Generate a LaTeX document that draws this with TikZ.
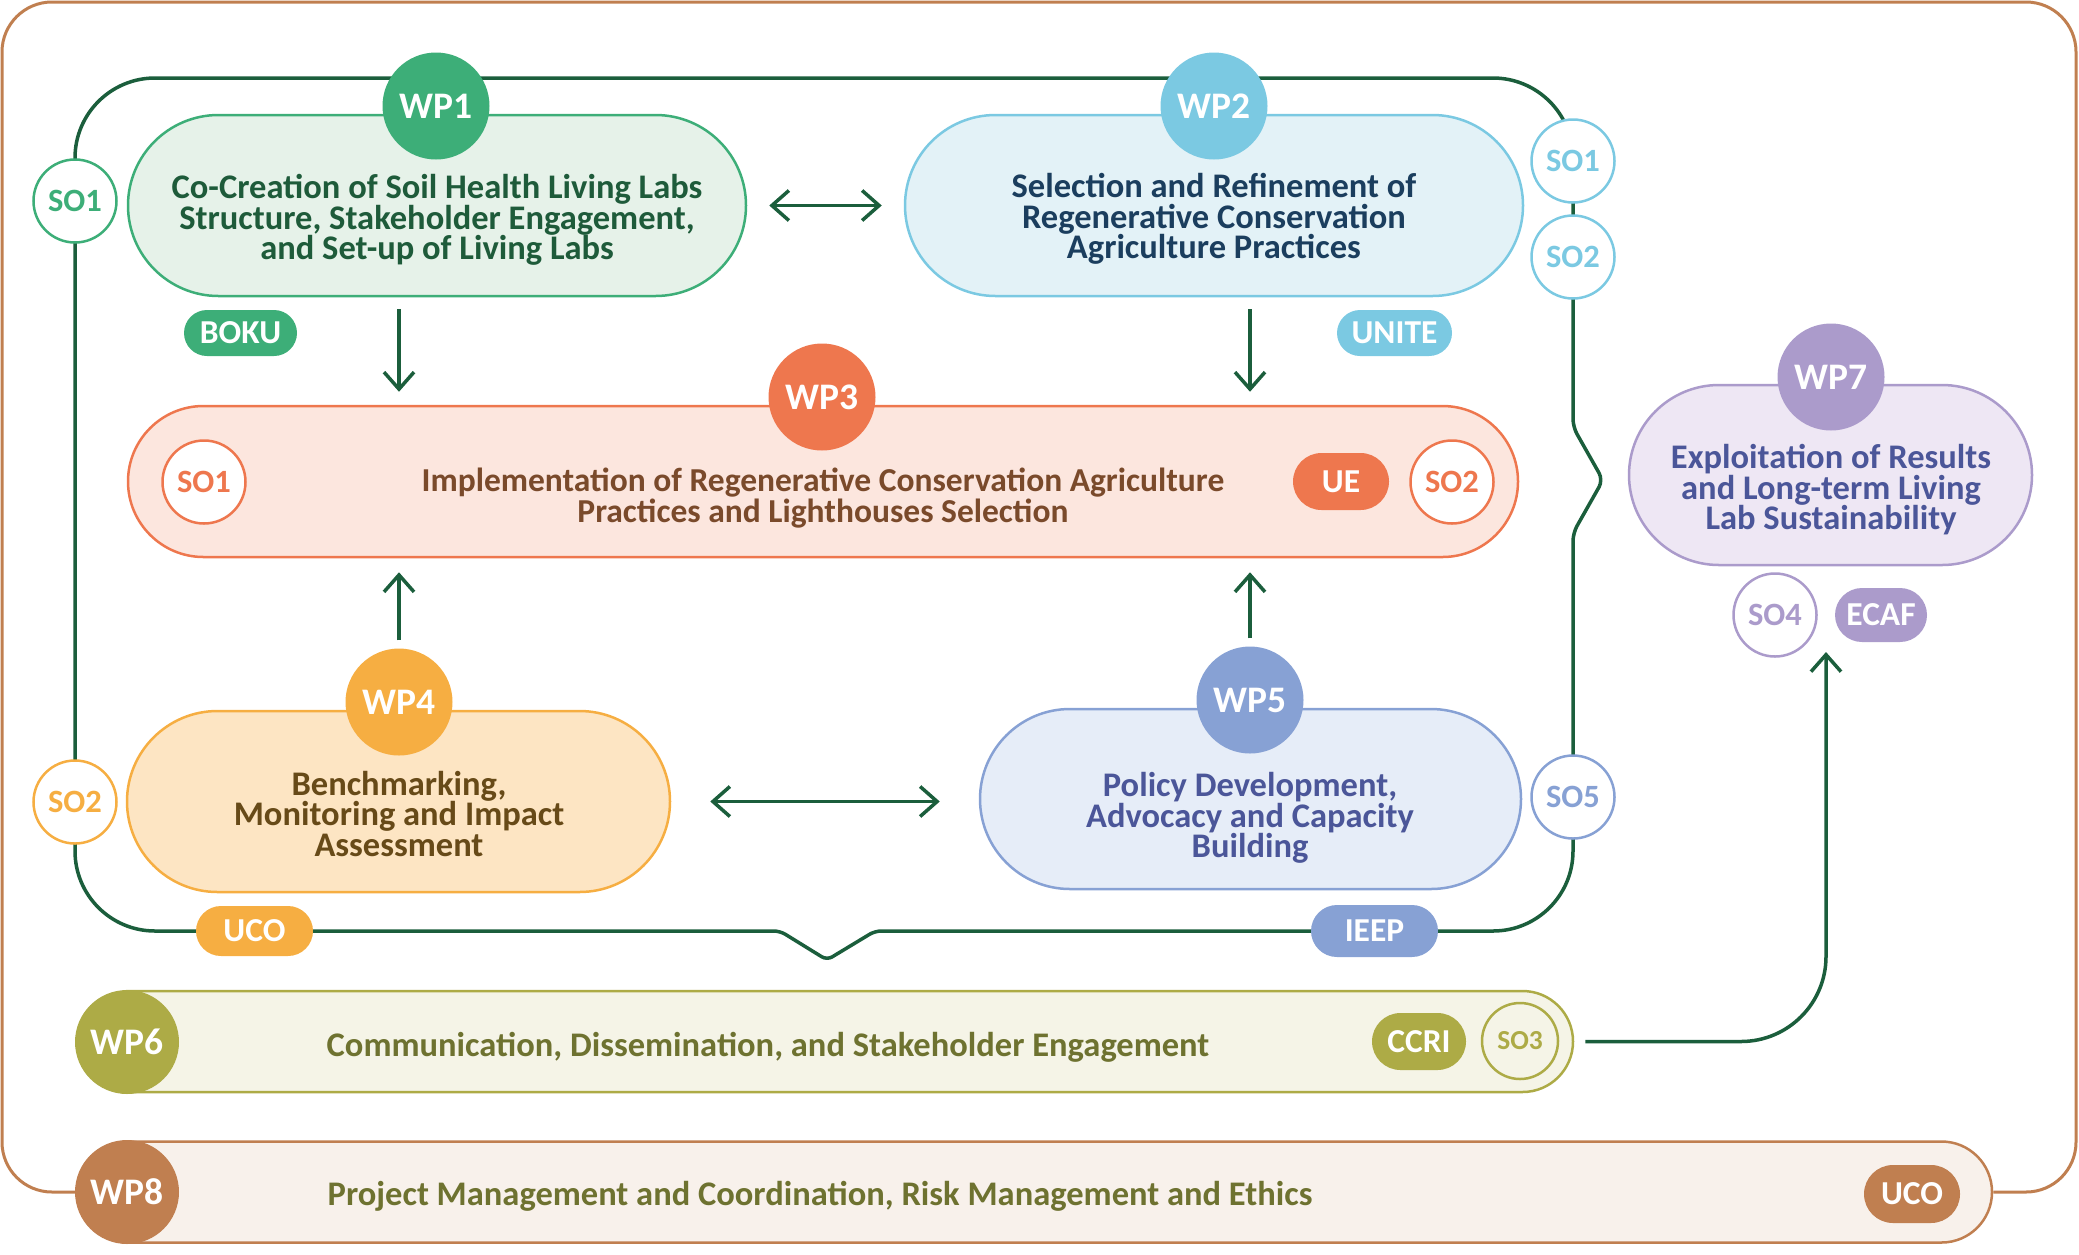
\documentclass[tikz,border=0pt]{standalone}
\usepackage{fontspec}
\setmainfont{Carlito}
\usetikzlibrary{shapes.misc,arrows.meta,backgrounds}
\definecolor{dkg}{HTML}{1B5E3C}
\definecolor{ca}{HTML}{3DAE78}\definecolor{cal}{HTML}{E6F2E9}\definecolor{cat}{HTML}{1E5B3A}
\definecolor{cb}{HTML}{7BC9E2}\definecolor{cbl}{HTML}{E3F2F7}\definecolor{cbt}{HTML}{1B3E5E}
\definecolor{cc}{HTML}{EE774E}\definecolor{ccl}{HTML}{FCE6DE}\definecolor{cct}{HTML}{7A4A2B}
\definecolor{cd}{HTML}{F6AE42}\definecolor{cdl}{HTML}{FDE5C3}\definecolor{cdt}{HTML}{674A18}
\definecolor{ce}{HTML}{87A1D4}\definecolor{cel}{HTML}{E6EDF8}\definecolor{cet}{HTML}{4B5699}
\definecolor{cf}{HTML}{ADAB46}\definecolor{cfl}{HTML}{F5F4E7}\definecolor{cft}{HTML}{6E7230}
\definecolor{cg}{HTML}{AB9BCB}\definecolor{cgl}{HTML}{EEE7F4}\definecolor{cgt}{HTML}{4B5699}
\definecolor{ch}{HTML}{C07F50}\definecolor{chl}{HTML}{F8F1EB}\definecolor{cht}{HTML}{6E7230}
\newcommand\bodyfnt{\fontsize{34.5}{30.5}\selectfont\bfseries}
\newcommand\wpfnt{\fontsize{37.5}{37.5}\selectfont\bfseries}
\newcommand\sofnt{\fontsize{32.5}{32.5}\selectfont\bfseries}
\newcommand\tagfnt{\fontsize{33.5}{33.5}\selectfont\bfseries}
\tikzset{
  pill/.style={rounded rectangle, draw, line width=2.5pt, inner sep=0pt},
  wpc/.style={circle, inner sep=0pt, minimum size=107pt, text=white, font=\wpfnt},
  socirc/.style={circle, draw, fill=white, line width=2.5pt, minimum size=83pt, inner sep=0pt, font=\sofnt},
  tag/.style={rounded rectangle, inner sep=0pt, text=white, font=\tagfnt},
  body/.style={align=center, font=\bodyfnt, inner sep=0pt},
  loopline/.style={line width=3.5pt, draw=dkg},
  outerline/.style={line width=3pt, draw=ch},
  arr/.style={line width=3.5pt, draw=dkg, -{Straight Barb[length=17pt,width=30pt]}},
  darr/.style={line width=3.5pt, draw=dkg, {Straight Barb[length=17pt,width=30pt]}-{Straight Barb[length=17pt,width=30pt]}},
}
\begin{document}
\begin{tikzpicture}[x=1pt,y=-1pt]
\useasboundingbox (0,0) rectangle (2079,1254);

% WP1
\node[pill, draw=ca, fill=cal, minimum width=618pt, minimum height=181pt] (wp1) at (437,205.5) {};
\node[wpc, fill=ca] (wp1c) at (436,106) {WP1};
\node[body, text=cat] (wp1t) at (437,220) {Co-Creation of Soil Health Living Labs\\Structure, Stakeholder Engagement,\\and Set-up of Living Labs};
\node[socirc, draw=ca, text=ca] (so1a) at (75,201) {SO1};
\node[tag, fill=ca, minimum width=113pt, minimum height=46pt] (boku) at (240.5,333) {BOKU};

% WP2
\node[pill, draw=cb, fill=cbl, minimum width=618pt, minimum height=181pt] (wp2) at (1214,205.5) {};
\node[wpc, fill=cb] (wp2c) at (1214,106) {WP2};
\node[body, text=cbt] (wp2t) at (1214,219) {Selection and Refinement of\\Regenerative Conservation\\Agriculture Practices};
\node[socirc, draw=cb, text=cb] (so1b) at (1573,161) {SO1};
\node[socirc, draw=cb, text=cb] (so2b) at (1573,257) {SO2};
\node[tag, fill=cb, minimum width=115pt, minimum height=46pt] (unite) at (1394.5,333) {UNITE};

% WP3
\node[pill, draw=cc, fill=ccl, minimum width=1390pt, minimum height=151pt] (wp3) at (823,481.5) {};
\node[wpc, fill=cc] (wp3c) at (822,397) {WP3};
\node[body, text=cct, font=\fontsize{33.5}{30.5}\selectfont\bfseries] (wp3t) at (823,498) {Implementation of Regenerative Conservation Agriculture\\Practices and Lighthouses Selection};
\node[socirc, draw=cc, text=cc] (so1c) at (204,482) {SO1};
\node[socirc, draw=cc, text=cc] (so2c) at (1452,482) {SO2};
\node[tag, fill=cc, minimum width=96pt, minimum height=57pt] (ue) at (1341,481.5) {UE};

% WP4
\node[pill, draw=cd, fill=cdl, minimum width=543pt, minimum height=181pt] (wp4) at (398.5,801.5) {};
\node[wpc, fill=cd] (wp4c) at (399,702) {WP4};
\node[body, text=cdt] (wp4t) at (399,814) {Benchmarking,\\Monitoring and Impact\\Assessment};
\node[socirc, draw=cd, text=cd] (so2a) at (75,802) {SO2};
\node[tag, fill=cd, minimum width=117pt, minimum height=50pt] (uco1) at (254.5,931) {UCO};

% WP5
\node[pill, draw=ce, fill=cel, minimum width=541pt, minimum height=180pt] (wp5) at (1250.5,799) {};
\node[wpc, fill=ce] (wp5c) at (1250,700) {WP5};
\node[body, text=cet] (wp5t) at (1250,818) {Policy Development,\\Advocacy and Capacity\\Building};
\node[socirc, draw=ce, text=ce] (so5) at (1573,797) {SO5};
\node[tag, fill=ce, minimum width=127pt, minimum height=52pt] (ieep) at (1374.5,931) {IEEP};

% WP7
\node[pill, draw=cg, fill=cgl, minimum width=403pt, minimum height=180pt] (wp7) at (1830.5,475) {};
\node[wpc, fill=cg] (wp7c) at (1831,377) {WP7};
\node[body, text=cgt] (wp7t) at (1831,490) {Exploitation of Results\\and Long-term Living\\Lab Sustainability};
\node[socirc, draw=cg, text=cg] (so4) at (1775,615) {SO4};
\node[tag, fill=cg, minimum width=92pt, minimum height=54pt] (ecaf) at (1881,615) {ECAF};

% WP6
\node[pill, rounded rectangle west arc=none, draw=cf, fill=cfl, minimum width=1446pt, minimum height=101pt] (wp6) at (850,1041.5) {};
\node[wpc, fill=cf, minimum size=104pt] (wp6c) at (127,1042) {WP6};
\node[body, text=cft] (wp6t) at (768,1047) {Communication, Dissemination, and Stakeholder Engagement};
\node[tag, fill=cf, minimum width=94pt, minimum height=57pt] (ccri) at (1419,1041.5) {CCRI};
\node[socirc, draw=cf, fill=cfl, text=cf, minimum size=76pt, font=\fontsize{27.5}{27.5}\selectfont\bfseries] (so3) at (1520,1041) {SO3};

% WP8
\node[pill, rounded rectangle west arc=none, draw=ch, fill=chl, minimum width=1865pt, minimum height=101pt] (wp8) at (1059.5,1192) {};
\node[wpc, fill=ch, minimum size=104pt] (wp8c) at (127,1192) {WP8};
\node[body, text=cht] (wp8t) at (820,1196) {Project Management and Coordination, Risk Management and Ethics};
\node[tag, fill=ch, minimum width=96pt, minimum height=58pt] (uco2) at (1912,1194) {UCO};

% frames
\begin{scope}[on background layer]
\draw[outerline, rounded corners=50pt] (wp8c.west) -- (2,1192) -- (2,2) -- (2076,2) -- (2076,1192) -- (wp8.east);
\draw[loopline, rounded corners=80pt] (75,500) -- (75,78) -- (1573,78) -- (1573,300)
  [rounded corners=8pt] -- (1573,427) -- (1603,480) -- (1573,533) -- (1573,650)
  [rounded corners=80pt] -- (1573,931) -- (1200,931)
  [rounded corners=6pt] -- (875,931) -- (827,960) -- (780,931) -- (500,931)
  [rounded corners=80pt] -- (75,931) -- cycle;
\end{scope}

% connectors
\draw[darr] ([xshift=22pt]wp1.east) -- ([xshift=-22pt]wp2.west);
\draw[darr] ([xshift=39pt]wp4.east) -- ([xshift=-39pt]wp5.west |- wp4.east);
\draw[arr] ([yshift=-12pt]wp1.south -| wp4c.center) -- ([yshift=13pt]wp3.north -| wp4c.center);
\draw[arr] ([yshift=-12pt]wp2.south -| wp5c.center) -- ([yshift=13pt]wp3.north -| wp5c.center);
\draw[arr] ([yshift=8pt]wp4c.north) -- ([yshift=-14pt]wp3.south -| wp4c.center);
\draw[arr] ([yshift=8pt]wp5c.north) -- ([yshift=-14pt]wp3.south -| wp5c.center);
\coordinate (a7) at (1826,652);
\draw[arr, rounded corners=85pt] ([xshift=11pt]wp6.east) -| (a7);
\end{tikzpicture}
\end{document}
